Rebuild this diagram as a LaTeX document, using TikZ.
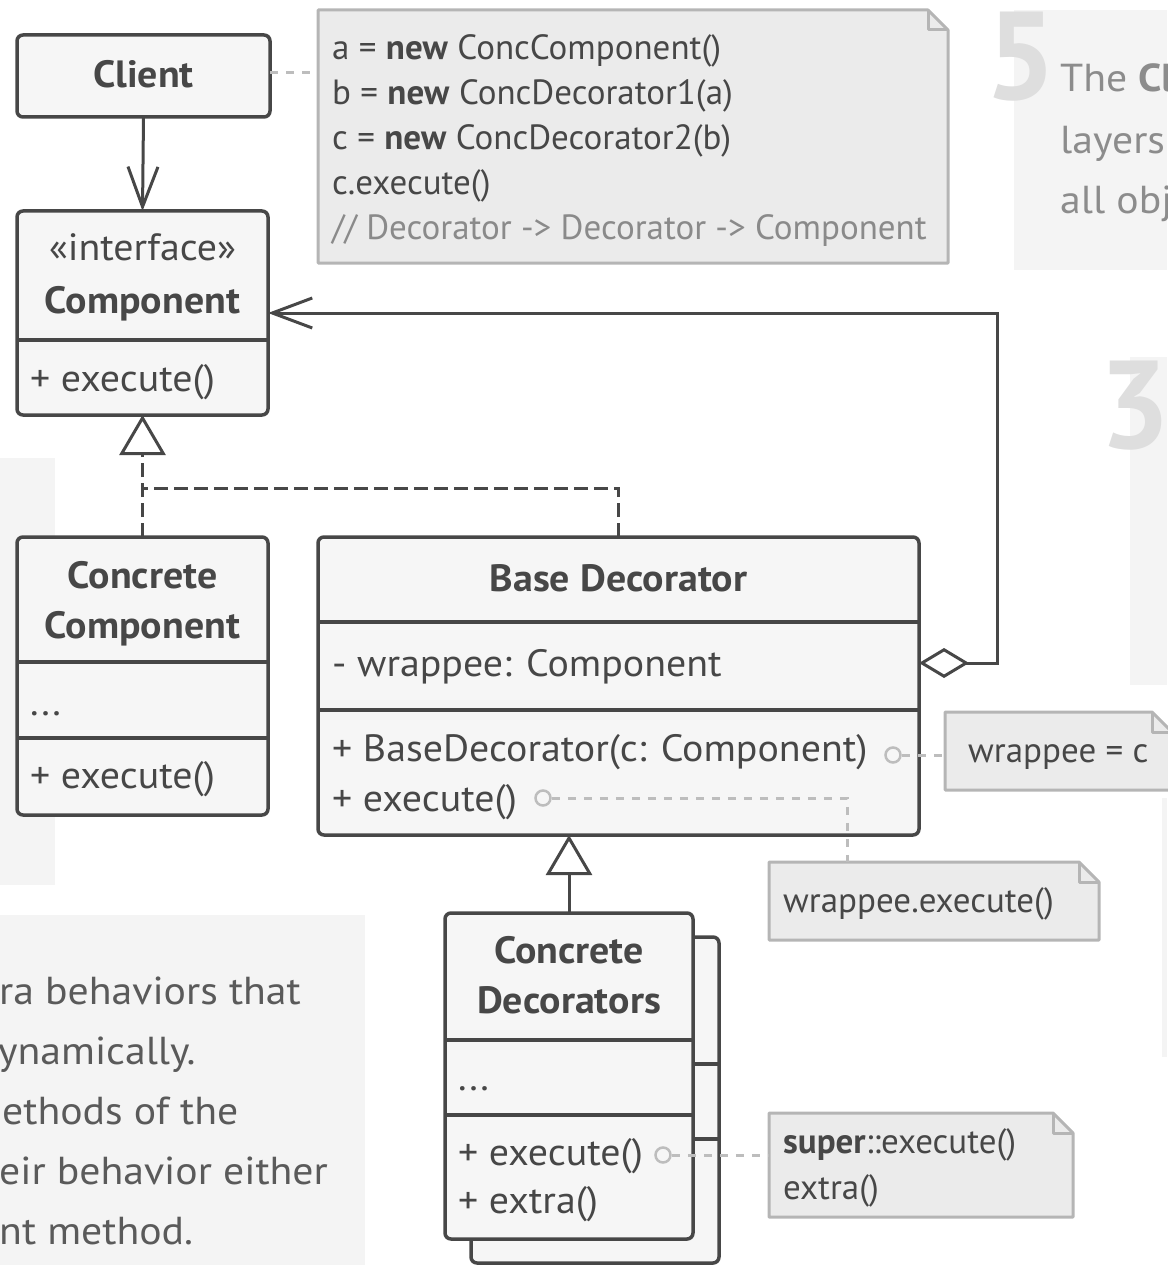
\documentclass[tikz,border=0pt]{standalone}
\usepackage{fontspec}
\setmainfont{PT Sans}
\newfontfamily\umlfamily[FakeStretch=1.05]{PT Sans}
\newfontfamily\panelfamily[FakeStretch=1.07]{PT Sans}
\usetikzlibrary{arrows.meta}

\definecolor{ink}{HTML}{474747}
\definecolor{boxfill}{HTML}{F6F6F6}
\definecolor{notefill}{HTML}{EBEBEB}
\definecolor{noteline}{HTML}{B5B5B5}
\definecolor{notegrey}{HTML}{8A8A8A}
\definecolor{panel}{HTML}{F4F4F4}
\definecolor{digit}{HTML}{DEDEDE}
\definecolor{paneltext}{HTML}{8C8C8C}
\definecolor{bodytext}{HTML}{5A5A5A}
\definecolor{hint}{HTML}{BDBDBD}

\newcommand\umlfont{\umlfamily\fontsize{38}{45}\selectfont}
\newcommand\memofont{\fontsize{35}{45}\selectfont}
\newcommand\panelfont{\panelfamily\fontsize{39}{60}\selectfont}

% outline of a note with a folded top-right corner
\newcommand\foldnote[1]{%
  \filldraw[fill=notefill, draw=noteline, line width=3pt, line join=round]
    (#1.south west) -- (#1.north west) -- ([xshift=-20pt]#1.north east)
    -- ([yshift=-20pt]#1.north east) -- (#1.south east) -- cycle;
  \draw[noteline, line width=3pt, line join=round]
    ([xshift=-20pt]#1.north east) |- ([yshift=-20pt]#1.north east);
}

\tikzset{
  umlbox/.style={draw=ink, fill=boxfill, line width=3.5pt, rounded corners=6pt,
    inner sep=0pt, outer sep=0pt},
  divider/.style={draw=ink, line width=4.5pt},
  label/.style={inner sep=0pt, text height=26pt, text depth=0pt, text=ink, font=\umlfont},
  memo/.style={inner sep=0pt, text height=25pt, text depth=0pt, text=ink, font=\memofont},
  notebox/.style={inner sep=0pt, outer sep=0pt},
  link/.style={draw=ink, line width=3pt},
  dashlink/.style={draw=ink, line width=3pt, dash pattern=on 14pt off 6pt},
  hintlink/.style={draw=hint, line width=3pt, dash pattern=on 8pt off 8pt},
  pin/.style={circle, draw=hint, line width=2.5pt, fill=boxfill, minimum size=15pt, inner sep=0pt},
  openv/.tip={Straight Barb[length=40pt, width=30pt, line join=miter]},
  hollowtri/.tip={Triangle[open, length=40pt, width=46pt, line join=miter]},
  hollowdia/.tip={Diamond[open, length=50pt, width=30pt, line join=miter]},
  paneltxt/.style={inner sep=0pt, text height=28pt, text depth=0pt, font=\panelfont},
}

\begin{document}
\begin{tikzpicture}[x=1pt, y=-1pt]
\useasboundingbox (0,0) rectangle (1167,1265);

% ---- background panels with explanatory text ----
\fill[panel] (1014,10) rectangle (1167,270);
\node[inner sep=0pt, text=digit, font=\fontsize{125}{125}\selectfont\bfseries] (num5) at (1021,57) {5};
\node[paneltxt, text=paneltext, anchor=west] (p5a) at (1060,78) {The \textbf{Cl}};
\node[paneltxt, text=paneltext, anchor=west] (p5b) at (1060,140) {layers};
\node[paneltxt, text=paneltext, anchor=west] (p5c) at (1060,200) {all obj};

\fill[panel] (1130,357) rectangle (1167,685);
\node[inner sep=0pt, text=digit, font=\fontsize{125}{125}\selectfont\bfseries] (num3) at (1135,406) {3};

\fill[panel] (1162,798) rectangle (1167,1057);
\fill[panel] (0,458) rectangle (55,885);

\fill[panel] (0,915) rectangle (365,1265);
\node[paneltxt, text=bodytext, anchor=west] (p4a) at (-1,990) {ra behaviors that};
\node[paneltxt, text=bodytext, anchor=west] (p4b) at (-2,1050) {ynamically.};
\node[paneltxt, text=bodytext, anchor=west] (p4c) at (2,1110) {ethods of the};
\node[paneltxt, text=bodytext, anchor=west] (p4d) at (-1,1170) {eir behavior either};
\node[paneltxt, text=bodytext, anchor=west] (p4e) at (-1,1230) {nt method.};

% ---- Client ----
\node[umlbox, minimum width=253pt, minimum height=82pt] (client) at (143.5,76) {};
\node[label, font=\umlfont\bfseries] (clientname) at (143.5,75) {Client};

% ---- Component interface ----
\node[umlbox, minimum width=251pt, minimum height=204pt] (component) at (142.5,313) {};
\draw[divider] (component.west |- 0,340) -- (component.east |- 0,340);
\node[label] (compstereo) at (142.5,248) {«interface»};
\node[label, font=\umlfont\bfseries] (compname) at (142.5,300) {Component};
\node[label, anchor=west] (compop) at (30,378) {+ execute()};

% ---- Concrete Component ----
\node[umlbox, minimum width=251pt, minimum height=278pt] (concomp) at (142.5,676) {};
\draw[divider] (concomp.west |- 0,662) -- (concomp.east |- 0,662);
\draw[divider] (concomp.west |- 0,738) -- (concomp.east |- 0,738);
\node[label, font=\umlfont\bfseries] (ccname1) at (142.5,575) {Concrete};
\node[label, font=\umlfont\bfseries] (ccname2) at (142.5,625) {Component};
\node[label, anchor=west] (ccfield) at (30,702) {...};
\node[label, anchor=west] (ccop) at (30,775) {+ execute()};

% ---- Base Decorator ----
\node[umlbox, minimum width=601pt, minimum height=298pt] (basedec) at (618.5,686) {};
\draw[divider] (basedec.west |- 0,622) -- (basedec.east |- 0,622);
\draw[divider] (basedec.west |- 0,710) -- (basedec.east |- 0,710);
\node[label, font=\umlfont\bfseries] (bdname) at (618.5,578) {Base Decorator};
\node[label, anchor=west] (wrapfield) at (332,663) {- wrappee: Component};
\node[label, anchor=west] (bdctor) at (332,748) {+ BaseDecorator(c: Component)};
\node[label, anchor=west] (bdexec) at (332,798) {+ execute()};

% ---- Concrete Decorators (stacked) ----
\node[umlbox, minimum width=248pt, minimum height=326pt] (condecback) at (595,1100) {};
\draw[divider] (condecback.west |- 0,1064) -- (condecback.east |- 0,1064);
\draw[divider] (condecback.west |- 0,1139) -- (condecback.east |- 0,1139);
\node[umlbox, minimum width=248pt, minimum height=326pt] (condec) at (569,1076) {};
\draw[divider] (condec.west |- 0,1040) -- (condec.east |- 0,1040);
\draw[divider] (condec.west |- 0,1115) -- (condec.east |- 0,1115);
\node[label, font=\umlfont\bfseries] (cdname1) at (569,950) {Concrete};
\node[label, font=\umlfont\bfseries] (cdname2) at (569,1000) {Decorators};
\node[label, anchor=west] (cdfield) at (458,1077) {...};
\node[label, anchor=west] (cdexec) at (458,1152) {+ execute()};
\node[label, anchor=west] (cdextra) at (458,1200) {+ extra()};

% ---- notes ----
\node[notebox, minimum width=630pt, minimum height=253pt] (topnote) at (633,136.5) {};
\foldnote{topnote}
\node[memo, anchor=west] (tn1) at (332,47) {a = \textbf{new} ConcComponent()};
\node[memo, anchor=west] (tn2) at (332,92) {b = \textbf{new} ConcDecorator1(a)};
\node[memo, anchor=west] (tn3) at (332,137) {c = \textbf{new} ConcDecorator2(b)};
\node[memo, anchor=west] (tn4) at (332,182) {c.execute()};
\node[memo, anchor=west, text=notegrey] (tn5) at (332,227) {// Decorator -> Decorator -> Component};

\node[notebox, minimum width=227pt, minimum height=78pt] (wrapnote) at (1058.5,751) {};
\foldnote{wrapnote}
\node[memo, anchor=west] (wn) at (968,750) {wrappee = c};

\node[notebox, minimum width=330pt, minimum height=78pt] (execnote) at (934,901) {};
\foldnote{execnote}
\node[memo, anchor=west] (en) at (783,900) {wrappee.execute()};

\node[notebox, minimum width=304pt, minimum height=104pt] (supernote) at (921,1165) {};
\foldnote{supernote}
\node[memo, anchor=west] (sn1) at (783,1141) {\textbf{super}::execute()};
\node[memo, anchor=west] (sn2) at (783,1187) {extra()};

% ---- pins on the methods the notes describe ----
\node[pin] (pinctor) at (893,755) {};
\node[pin] (pinexec) at (543,798) {};
\node[pin] (pincd) at (663,1155) {};

% ---- connectors ----
\draw[hintlink] (client.east |- 0,73) -- (topnote.west |- 0,73);
\draw[hintlink] (pinctor.east) -- (pinctor.east -| wrapnote.west);
\coordinate (execbend) at (847,798);
\draw[hintlink] (pinexec.east) -- (execbend) -- (execbend |- execnote.north);
\draw[hintlink] (pincd.east) -- (pincd.east -| supernote.west);

\draw[link, -{openv}] (client.south) -- (component.north);

\draw[dashlink, -{hollowtri}] (concomp.north) -- (component.south);
\coordinate (realjoin) at (142.5,488);
\draw[dashlink] (basedec.north) |- (realjoin);

\coordinate (aggcorner) at (997,663);
\draw[link, line join=miter, {openv}-{hollowdia}] (component.east) -| (aggcorner) -- (basedec.east |- wrapfield);

\draw[link, -{hollowtri}] (condec.north) -- (condec.north |- basedec.south);
\end{tikzpicture}
\end{document}
